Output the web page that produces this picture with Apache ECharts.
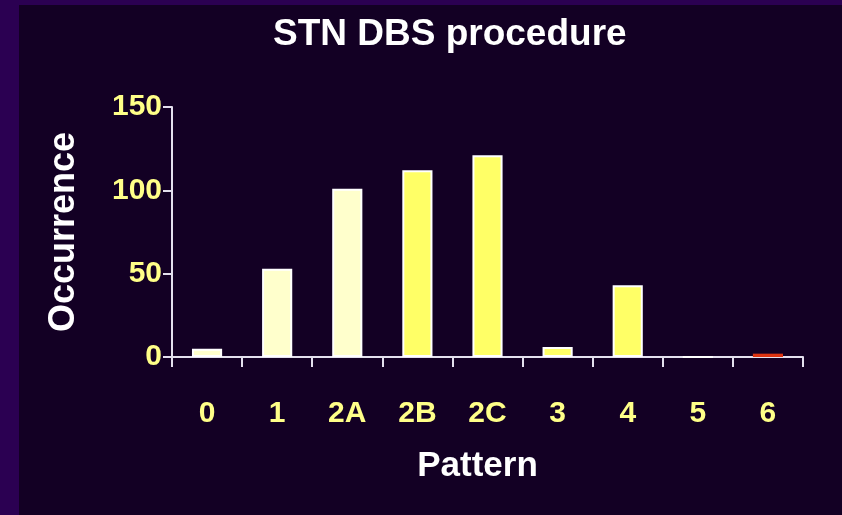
<!DOCTYPE html>
<html>
<head>
<meta charset="utf-8">
<script src="https://cdn.jsdelivr.net/npm/echarts@6/dist/echarts.min.js"></script>
<style>
  html, body { margin: 0; padding: 0; background: #2b0052; width: 842px; height: 515px; overflow: hidden; }
  #chart { position: absolute; left: 19px; top: 5px; width: 823px; height: 510px; }
</style>
</head>
<body>
<div id="chart"></div>
<script>
const categories = ['0', '1', '2A', '2B', '2C', '3', '4', '5', '6'];
const occurrences = [5, 53, 101, 112, 121, 6, 43, 0, 2];
const barColors = ['#ffffcc', '#ffffcc', '#ffffcc', '#ffff66', '#ffff66', '#ffff66', '#ffff66', '#ffff66', '#dd3311'];
const borderColors = ['#ffffff', '#ffffff', '#ffffff', '#ffffff', '#ffffff', '#ffffff', '#ffffff', '#ffffff', '#dd3311'];
const yTicks = [0, 50, 100, 150];

const chart = echarts.init(document.getElementById('chart'), null, { renderer: 'canvas' });
const font = 'Liberation Sans, Arial, Helvetica, sans-serif';
chart.setOption({
  backgroundColor: '#130024',
  animation: false,
  title: {
    text: 'STN DBS procedure',
    left: 254,
    top: 11,
    padding: 0,
    textStyle: { color: '#ffffff', fontSize: 37, fontWeight: 'bold', fontFamily: font }
  },
  grid: { left: 153, right: 39, top: 102, bottom: 158, containLabel: false },
  xAxis: {
    type: 'category',
    data: categories,
    name: 'Pattern',
    nameLocation: 'middle',
    nameGap: 92,
    nameTextStyle: { color: '#ffffff', fontSize: 35, fontWeight: 'bold', fontFamily: font, padding: [0, 20, 0, 0] },
    axisLine: { lineStyle: { color: '#e4e0ee', width: 2 } },
    axisTick: { show: true, length: 10, lineStyle: { color: '#e4e0ee', width: 2 } },
    axisLabel: { color: '#ffff88', fontSize: 30, fontWeight: 'bold', fontFamily: font, margin: 42 }
  },
  yAxis: {
    type: 'value',
    min: yTicks[0],
    max: yTicks[yTicks.length - 1],
    interval: 50,
    name: 'Occurrence',
    nameLocation: 'middle',
    nameRotate: 90,
    nameGap: 90,
    nameTextStyle: { color: '#ffffff', fontSize: 36, fontWeight: 'bold', fontFamily: font },
    axisLine: { show: true, lineStyle: { color: '#e4e0ee', width: 2 } },
    axisTick: { show: true, length: 9, lineStyle: { color: '#e4e0ee', width: 2 } },
    splitLine: { show: false },
    axisLabel: { color: '#ffff88', fontSize: 30, fontWeight: 'bold', fontFamily: font, margin: 10 }
  },
  series: [{
    type: 'bar',
    barWidth: '43%',
    data: occurrences.map((v, i) => ({
      value: v,
      itemStyle: { color: barColors[i], borderColor: borderColors[i], borderWidth: 2 }
    }))
  }]
});
</script>
</body>
</html>
